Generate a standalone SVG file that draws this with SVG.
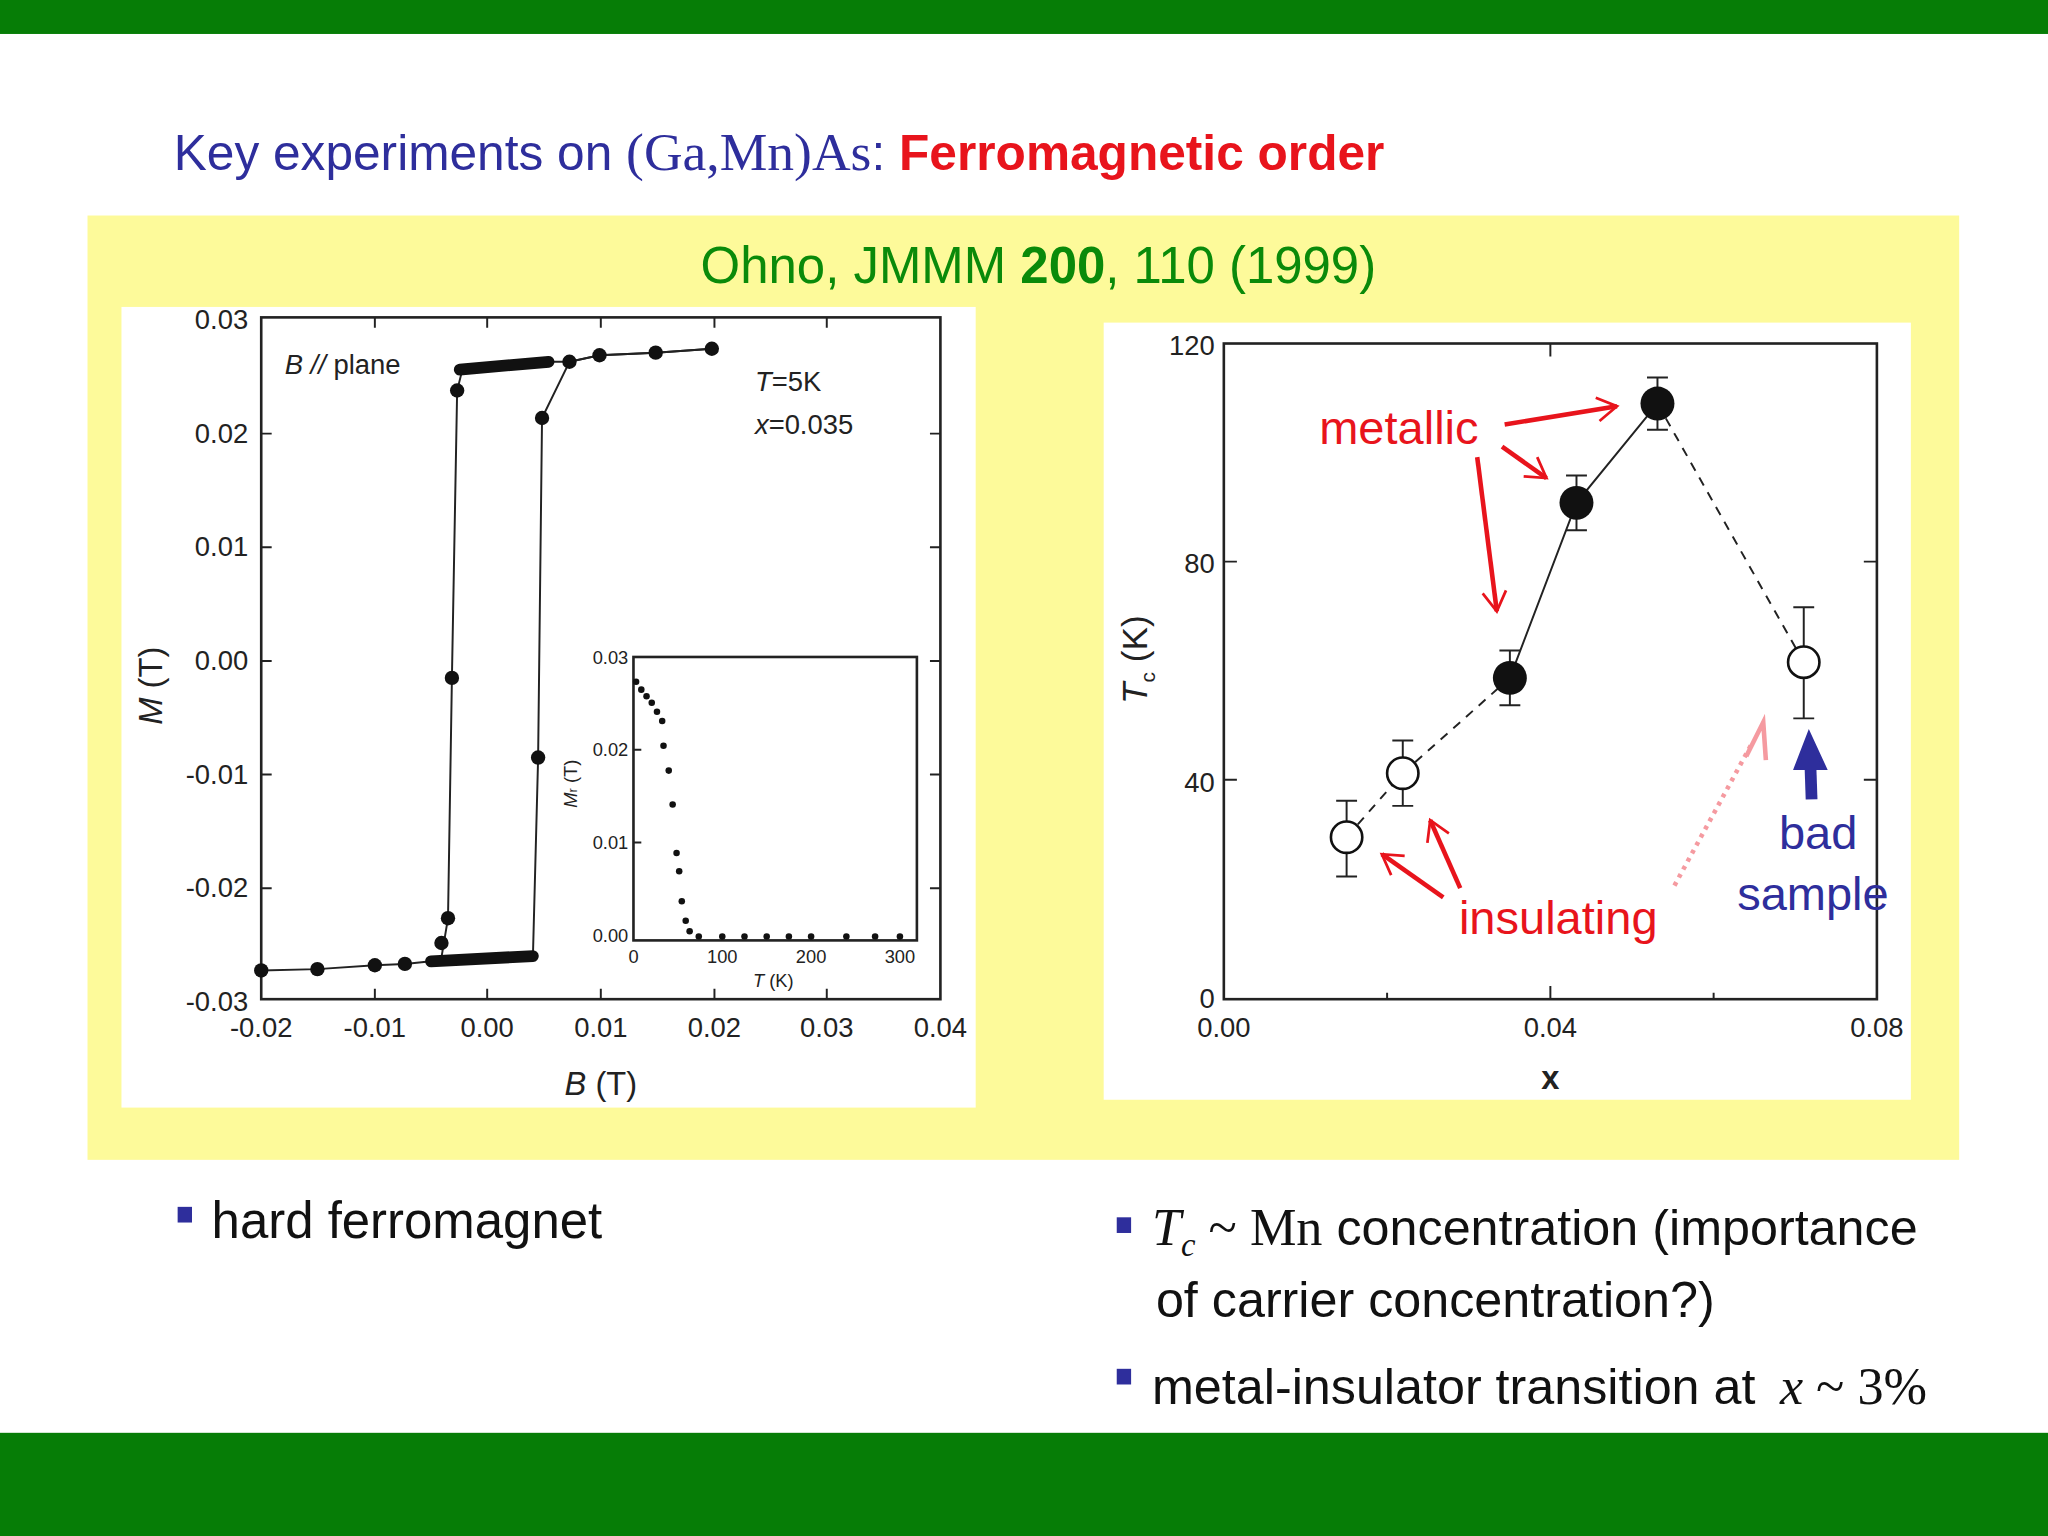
<svg xmlns="http://www.w3.org/2000/svg" width="2048" height="1536" viewBox="0 0 2048 1536">
<style>
.s{font-family:"Liberation Sans",Arial,sans-serif}
.t{font-family:"Liberation Serif","Times New Roman",serif}
.tk{font-family:"Liberation Sans",Arial,sans-serif;font-size:21px;fill:#222}
.ti{font-family:"Liberation Sans",Arial,sans-serif;font-size:14px;fill:#222}
.fr{fill:none;stroke:#222;stroke-width:2}
.ln{fill:none;stroke:#222;stroke-width:1.5}
.ds{fill:none;stroke:#222;stroke-width:1.5;stroke-dasharray:7 6}
.ra{fill:none;stroke:#e8141c;stroke-width:3.5}
</style>
<defs>
<marker id="ah" viewBox="0 0 10 10" refX="9" refY="5" markerWidth="6" markerHeight="6" orient="auto" markerUnits="userSpaceOnUse" style="overflow:visible">
<path d="M-16,-10 L9,5 L-16,20" fill="none" stroke="#e8141c" stroke-width="3.5"/>
</marker>
</defs>
<rect width="2048" height="1536" fill="#fff"/>
<g transform="scale(1.30612)">
<rect x="0" y="0" width="1568" height="26" fill="#067d06"/>
<rect x="0" y="1097" width="1568" height="79" fill="#067d06"/>
<text x="133" y="130" class="s" font-size="38" fill="#2e2e9c">Key experiments on <tspan class="t" font-size="41">(Ga,Mn)As</tspan>: <tspan fill="#e8141c" font-weight="bold">Ferromagnetic order</tspan></text>
<rect x="67" y="165" width="1433" height="723" fill="#fdfa9a"/>
<text x="795" y="217" class="s" font-size="39" fill="#0a8a0a" text-anchor="middle">Ohno, JMMM <tspan font-weight="bold">200</tspan>, 110 (1999)</text>

<g id="left-plot">
<rect x="93" y="235" width="654" height="613" fill="#fff"/>
<rect x="200" y="243" width="520" height="522" class="fr"/>
<g class="ln">
<path d="M200,332h8M200,419h8M200,506h8M200,593h8M200,680h8M720,332h-8M720,419h-8M720,506h-8M720,593h-8M720,680h-8M287,765v-8M373,765v-8M460,765v-8M547,765v-8M633,765v-8M287,243v8M373,243v8M460,243v8M547,243v8M633,243v8"/>
</g>
<g class="tk" text-anchor="end">
<text x="190" y="252">0.03</text><text x="190" y="339">0.02</text><text x="190" y="426">0.01</text><text x="190" y="513">0.00</text><text x="190" y="600">-0.01</text><text x="190" y="687">-0.02</text><text x="190" y="774">-0.03</text>
</g>
<g class="tk" text-anchor="middle">
<text x="200" y="794">-0.02</text><text x="287" y="794">-0.01</text><text x="373" y="794">0.00</text><text x="460" y="794">0.01</text><text x="547" y="794">0.02</text><text x="633" y="794">0.03</text><text x="720" y="794">0.04</text>
</g>
<text x="460" y="838" class="s" font-size="25" text-anchor="middle" fill="#222"><tspan font-style="italic">B</tspan> (T)</text>
<text transform="translate(124,525) rotate(-90)" class="s" font-size="25" text-anchor="middle" fill="#222"><tspan font-style="italic">M</tspan> (T)</text>
<text x="218" y="286" class="s" font-size="21" fill="#222"><tspan font-style="italic">B //</tspan> plane</text>
<text x="578" y="299" class="s" font-size="21" fill="#222"><tspan font-style="italic">T</tspan>=5K</text>
<text x="578" y="332" class="s" font-size="21" fill="#222"><tspan font-style="italic">x</tspan>=0.035</text>
<path class="ln" d="M200,743L243,742L287,739L310,738L330,736L338,733L343,703L346,519L350,299L354,283L420,277L436,277L459,272L502,270L545,267"/>
<path class="ln" d="M545,267L502,270L459,272L436,277L415,320L412,580L408,733L330,737"/>
<path d="M352,283L420,277" stroke="#111" stroke-width="9" stroke-linecap="round"/>
<path d="M330,736L408,732" stroke="#111" stroke-width="9" stroke-linecap="round"/>
<g fill="#111">
<circle cx="200" cy="743" r="5.5"/><circle cx="243" cy="742" r="5.5"/><circle cx="287" cy="739" r="5.5"/><circle cx="310" cy="738" r="5.5"/><circle cx="338" cy="722" r="5.5"/><circle cx="343" cy="703" r="5.5"/><circle cx="346" cy="519" r="5.5"/><circle cx="350" cy="299" r="5.5"/><circle cx="436" cy="277" r="5.5"/><circle cx="459" cy="272" r="5.5"/><circle cx="502" cy="270" r="5.5"/><circle cx="545" cy="267" r="5.5"/><circle cx="415" cy="320" r="5.5"/><circle cx="412" cy="580" r="5.5"/>
</g>
<rect x="485" y="503" width="217" height="217" class="fr" stroke-width="1.5"/>
<g class="ln"><path d="M485,574h6M485,645h6M553,720v-5M621,720v-5M689,720v-5"/></g>
<g class="ti" text-anchor="end"><text x="481" y="508">0.03</text><text x="481" y="579">0.02</text><text x="481" y="650">0.01</text><text x="481" y="721">0.00</text></g>
<g class="ti" text-anchor="middle"><text x="485" y="737">0</text><text x="553" y="737">100</text><text x="621" y="737">200</text><text x="689" y="737">300</text></g>
<text x="592" y="756" class="ti" text-anchor="middle" font-size="15"><tspan font-style="italic">T</tspan> (K)</text>
<text transform="translate(442,600) rotate(-90)" class="ti" text-anchor="middle" font-size="15"><tspan font-style="italic">M</tspan><tspan font-size="10">r</tspan> (T)</text>
<g fill="#111">
<circle cx="487" cy="522" r="2.5"/><circle cx="491" cy="528" r="2.5"/><circle cx="495" cy="533" r="2.5"/><circle cx="499" cy="538" r="2.5"/><circle cx="503" cy="545" r="2.5"/><circle cx="507" cy="552" r="2.5"/><circle cx="508" cy="571" r="2.5"/><circle cx="512" cy="590" r="2.5"/><circle cx="515" cy="616" r="2.5"/><circle cx="518" cy="653" r="2.5"/><circle cx="520" cy="667" r="2.5"/><circle cx="522" cy="690" r="2.5"/><circle cx="525" cy="705" r="2.5"/><circle cx="528" cy="713" r="2.5"/><circle cx="535" cy="717" r="2.5"/><circle cx="553" cy="717" r="2.5"/><circle cx="570" cy="717" r="2.5"/><circle cx="587" cy="717" r="2.5"/><circle cx="604" cy="717" r="2.5"/><circle cx="621" cy="717" r="2.5"/><circle cx="648" cy="717" r="2.5"/><circle cx="670" cy="717" r="2.5"/><circle cx="689" cy="717" r="2.5"/>
</g>
</g>

<g id="right-plot">
<rect x="845" y="247" width="618" height="595" fill="#fff"/>
<rect x="937" y="263" width="500" height="502" class="fr"/>
<g class="ln"><path d="M937,597h10M937,430h10M1437,597h-10M1437,430h-10M1187,765v-10M1187,263v10M1062,765v-5M1312,765v-5"/></g>
<g class="tk" text-anchor="end"><text x="930" y="272">120</text><text x="930" y="439">80</text><text x="930" y="606">40</text><text x="930" y="772">0</text></g>
<g class="tk" text-anchor="middle"><text x="937" y="794">0.00</text><text x="1187" y="794">0.04</text><text x="1437" y="794">0.08</text></g>
<text x="1187" y="834" class="s" font-size="25" font-weight="bold" text-anchor="middle" fill="#222">x</text>
<text transform="translate(878,505) rotate(-90)" class="s" font-size="27" text-anchor="middle" fill="#222"><tspan font-style="italic">T</tspan><tspan font-size="16" dy="6">c</tspan><tspan dy="-6"> (K)</tspan></text>
<path class="ds" d="M1031,641L1074,592L1156,519"/>
<path class="ln" d="M1156,519L1207,385L1269,309"/>
<path class="ds" d="M1269,309L1381,507"/>
<g class="ln" stroke-width="2">
<path d="M1031,613v58M1023,613h16M1023,671h16M1074,567v50M1066,567h16M1066,617h16M1156,498v42M1148,498h16M1148,540h16M1207,364v42M1199,364h16M1199,406h16M1269,289v40M1261,289h16M1261,329h16M1381,465v85M1373,465h16M1373,550h16"/>
</g>
<circle cx="1031" cy="641" r="12" fill="#fff" stroke="#111" stroke-width="2"/>
<circle cx="1074" cy="592" r="12" fill="#fff" stroke="#111" stroke-width="2"/>
<circle cx="1381" cy="507" r="12" fill="#fff" stroke="#111" stroke-width="2"/>
<circle cx="1156" cy="519" r="13" fill="#111"/>
<circle cx="1207" cy="385" r="13" fill="#111"/>
<circle cx="1269" cy="309" r="13" fill="#111"/>
</g>

<g id="annotations">
<text x="1010" y="340" class="s" font-size="36" fill="#e8141c">metallic</text>
<text x="1117" y="715" class="s" font-size="36" fill="#e8141c">insulating</text>
<text x="1362" y="650" class="s" font-size="36" fill="#2e2e9c">bad</text>
<text x="1330" y="697" class="s" font-size="36" fill="#2e2e9c">sample</text>
</g>
<g id="connectors">
<path class="ra" d="M1152,325L1238,311" marker-end="url(#ah)"/>
<path class="ra" d="M1150,342L1184,366" marker-end="url(#ah)"/>
<path class="ra" d="M1131,350L1146,468" marker-end="url(#ah)"/>
<path class="ra" d="M1105,687L1058,654" marker-end="url(#ah)"/>
<path class="ra" d="M1118,680L1095,628" marker-end="url(#ah)"/>
<path d="M1282,678L1342,568" fill="none" stroke="#f59aa0" stroke-width="3.5" stroke-dasharray="3 4"/>
<path d="M1337,579L1350,553L1352,582" fill="none" stroke="#f59aa0" stroke-width="3.5"/>
<path d="M1387,612L1386,583" stroke="#2e2e9c" stroke-width="9"/>
<path d="M1375,588L1385,562L1397,588Z" fill="#2e2e9c" stroke="#2e2e9c" stroke-width="3"/>
</g>

<g id="bullets">
<rect x="136" y="924" width="11" height="12" fill="#2e2e9c"/>
<text x="162" y="948" class="s" font-size="39" fill="#111">hard ferromagnet</text>
<rect x="855" y="932" width="11" height="12" fill="#2e2e9c"/>
<text x="882" y="953" class="s" font-size="38.5" fill="#111"><tspan class="t" font-style="italic" font-size="40">T</tspan><tspan class="t" font-style="italic" font-size="25" dy="9">c</tspan><tspan class="t" font-size="40" dy="-9"> ~ Mn</tspan> concentration (importance</text>
<text x="885" y="1008" class="s" font-size="38.5" fill="#111">of carrier concentration?)</text>
<rect x="855" y="1048" width="11" height="12" fill="#2e2e9c"/>
<text x="882" y="1075" class="s" font-size="38.5" fill="#111">metal-insulator transition at <tspan class="t" font-size="40" font-style="italic" dx="8">x</tspan><tspan class="t" font-size="40"> ~ 3%</tspan></text>
</g>
</g>
</svg>
